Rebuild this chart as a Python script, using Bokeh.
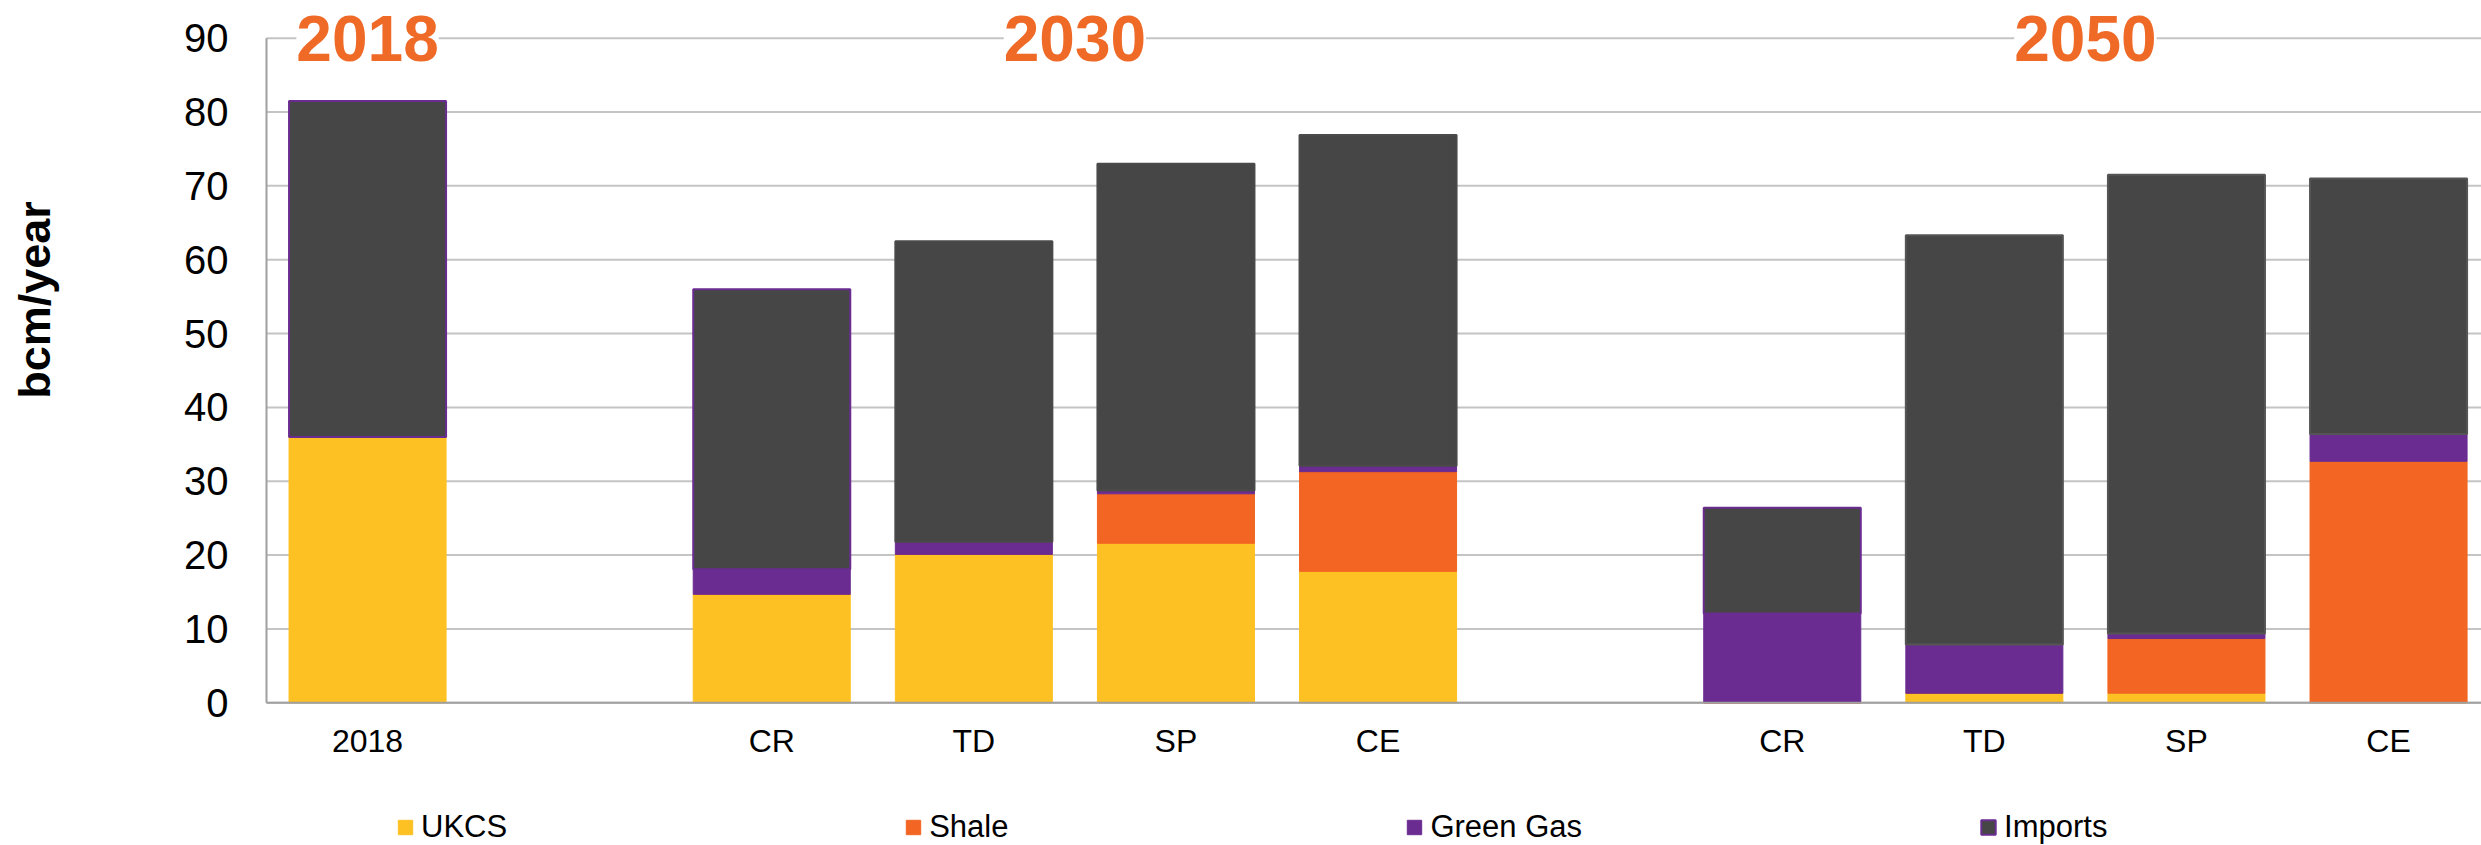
from bokeh.plotting import figure
from bokeh.core.properties import value
from bokeh.models import (ColumnDataSource, Range1d, Legend, LegendItem, Label, LabelSet)
from bokeh.embed import file_html
from bokeh.resources import INLINE
from math import pi

# ---------------- data ----------------
groups = ["2018", "2030", "2050"]
group_members = [["2018"], ["CR", "TD", "SP", "CE"], ["CR", "TD", "SP", "CE"]]

series = ["UKCS", "Shale", "Green Gas", "Imports"]
ukcs = [36.0, 14.7, 20.1, 21.6, 17.8, 0.0, 1.3, 1.3, 0.0]
shale = [0.0, 0.0, 0.0, 6.7, 13.5, 0.0, 0.0, 7.4, 32.7]
green_gas = [0.0, 3.4, 1.7, 0.45, 0.8, 12.1, 6.6, 0.7, 3.7]
imports = [45.5, 37.9, 40.7, 44.25, 44.8, 14.3, 55.4, 62.1, 34.6]

y_ticks = [0, 10, 20, 30, 40, 50, 60, 70, 80, 90]
y_label = "bcm/year"

# ---------------- styles / layout constants ----------------
colors = ["#FEC123", "#F26522", "#6A2C91", "#464646"]
imports_outline = ["#6A2C91", "#6A2C91", "#4A4A4A", "#4A4A4A", "#4A4A4A",
                   "#6A2C91", "#555555", "#555555", "#555555"]
title_color = "#EF6A27"
grid_color = "#C4C4C4"
axis_color = "#A0A0A0"
FONT = "Liberation Sans"

W, H = 2481, 845
AXIS_PX = 266      # left edge of plotting area
ZERO_PX = 702.3    # pixel row of value 0
UNIT_PX = 7.385    # pixels per bcm/year
SLOT_PX = 202.1    # pixels per category slot

# category slots (one empty slot between groups)
xs, labels = [], []
group_centers = []
pos = 0
for g, members in zip(groups, group_members):
    start = pos
    for m in members:
        xs.append(pos)
        labels.append(m)
        pos += 1
    group_centers.append((start + pos - 1) / 2)
    pos += 1

x_left = xs[0] - 0.5
x_start = x_left - AXIS_PX / SLOT_PX
x_end = x_left + (W - AXIS_PX) / SLOT_PX
y_start = -(H - ZERO_PX) / UNIT_PX
y_end = ZERO_PX / UNIT_PX

source = ColumnDataSource(data=dict(
    x=xs, label=labels,
    **{"UKCS": ukcs, "Shale": shale, "Green Gas": green_gas, "Imports": imports},
    imports_line=imports_outline,
))

p = figure(width=W, height=H,
           x_range=Range1d(x_start, x_end), y_range=Range1d(y_start, y_end),
           output_backend="svg", toolbar_location=None,
           x_axis_location=None, y_axis_location=None, min_border=0)
p.grid.visible = False
p.outline_line_color = None

# horizontal gridlines at the y ticks
p.segment(x0=x_left, x1=x_end, y0=y_ticks, y1=y_ticks,
          line_color=grid_color, line_width=2, level="underlay")

renderers = p.vbar_stack(series, x="x", width=0.777, source=source,
                         fill_color=colors,
                         line_color=[colors[0], colors[1], colors[2], "imports_line"],
                         line_width=[1, 1, 1, 2])

# axis lines
p.segment(x0=[x_left], x1=[x_left], y0=[y_ticks[0]], y1=[y_ticks[-1]],
          line_color=axis_color, line_width=2)
p.segment(x0=[x_left], x1=[x_end], y0=[y_ticks[0]], y1=[y_ticks[0]],
          line_color=axis_color, line_width=2)

# y tick labels
p.text(x=[x_left] * len(y_ticks), y=y_ticks, text=[str(t) for t in y_ticks],
       x_offset=-38, text_align="right", text_baseline="middle",
       text_font=value(FONT), text_font_size="40px", text_color="#000000")

# x tick labels
p.text(x="x", y=0, text="label", source=source, y_offset=38,
       text_align="center", text_baseline="middle",
       text_font=value(FONT), text_font_size="32px", text_color="#000000")

# y-axis title
p.add_layout(Label(x=x_left - (AXIS_PX - 34) / SLOT_PX, y=(ZERO_PX - 299.5) / UNIT_PX,
                   text=y_label, angle=pi / 2, text_align="center",
                   text_baseline="middle", text_font=FONT,
                   text_font_style="bold", text_font_size="45px",
                   text_color="#000000"))

# group titles sitting on the top gridline
title_src = ColumnDataSource(data=dict(x=group_centers, y=[y_ticks[-1]] * len(groups),
                                       text=groups))
p.add_layout(LabelSet(x="x", y="y", text="text", source=title_src,
                      text_align="center", text_baseline="middle",
                      text_font=value(FONT), text_font_style="bold",
                      text_font_size="64px", text_color=title_color,
                      background_fill_color="white"))

legend = Legend(items=[LegendItem(label=s, renderers=[r]) for s, r in zip(series, renderers)],
                orientation="horizontal", location=(396, 0),
                spacing=397, glyph_width=18, glyph_height=18, label_standoff=7,
                label_text_font=FONT, label_text_font_size="31px",
                label_text_color="#000000",
                padding=0, margin=0, border_line_alpha=0, background_fill_alpha=0)
p.add_layout(legend)

open("out.html", "w").write(file_html(p, INLINE))
